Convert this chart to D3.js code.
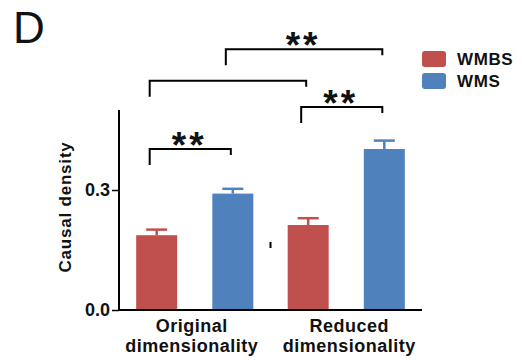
<!DOCTYPE html>
<html>
<head>
<meta charset="utf-8">
<script src="https://cdn.jsdelivr.net/npm/d3@7"></script>
<style>
  body { margin: 0; background: #fff; }
  text { font-family: "Liberation Sans", Arial, sans-serif; }
</style>
</head>
<body>
<svg id="chart" width="522" height="360"></svg>
<script>
// chart data
var groups = ["Original|dimensionality", "Reduced|dimensionality"];
var series = ["WMBS", "WMS"];
var means = [[0.187, 0.291], [0.2125, 0.4025]];
var errors = [[0.014, 0.012], [0.017, 0.021]];
var yTicks = [0.0, 0.3];

// significance brackets: [group, series] -> [group, series], level in y units
var brackets = [
    {from: [0, 0], to: [0, 1], level: 0.4025, label: "**"},
    {from: [1, 0], to: [1, 1], level: 0.5075, label: "**"},
    {from: [0, 0], to: [1, 0], level: 0.573, label: ""},
    {from: [0, 1], to: [1, 1], level: 0.652, label: "**"}
];

var colors = {"WMBS": "#c0504d", "WMS": "#4f81bd"};

var svg = d3.select("#chart");

var plotL = 119, plotR = 422, plotT = 110, plotB = 310;

var x0 = d3.scaleBand().domain(groups).range([plotL, plotR]).padding(0);
var x1 = d3.scaleBand().domain(series).range([0, x0.bandwidth()]).paddingInner(0.85).paddingOuter(0.42);
var y = d3.scaleLinear().domain([0, 0.5]).range([plotB, plotT]);

function barCenter(g, s) {
    return x0(groups[g]) + x1(series[s]) + x1.bandwidth() / 2;
}

// bars + error bars
groups.forEach(function(g, gi) {
    series.forEach(function(s, si) {
        var cx = barCenter(gi, si);
        var m = means[gi][si], e = errors[gi][si];
        svg.append("rect")
            .attr("x", cx - 20.5)
            .attr("width", 41)
            .attr("y", y(m))
            .attr("height", y(0) - y(m))
            .attr("fill", colors[s]);
        svg.append("line")
            .attr("x1", cx).attr("x2", cx)
            .attr("y1", y(m)).attr("y2", y(m + e))
            .attr("stroke", colors[s]).attr("stroke-width", 2.5);
        svg.append("line")
            .attr("x1", cx - 10.5).attr("x2", cx + 10.5)
            .attr("y1", y(m + e)).attr("y2", y(m + e))
            .attr("stroke", colors[s]).attr("stroke-width", 2.5);
    });
});

// axes
var yAxis = svg.append("g")
    .attr("transform", "translate(" + plotL + ",0)")
    .call(d3.axisLeft(y).tickValues(yTicks).tickFormat(d3.format(".1f")).tickSize(7).tickPadding(2));
yAxis.select(".domain").attr("stroke", "#000").attr("stroke-width", 2).attr("d", "M0," + plotT + "V" + plotB);
yAxis.selectAll(".tick line").attr("stroke", "#000").attr("stroke-width", 1.5);
yAxis.selectAll(".tick text")
    .attr("font-size", 18).attr("font-weight", "bold").attr("fill", "#111")
    .attr("font-family", "Liberation Sans, Arial, sans-serif");

svg.append("line")
    .attr("x1", plotL - 1).attr("x2", plotR)
    .attr("y1", plotB).attr("y2", plotB)
    .attr("stroke", "#000").attr("stroke-width", 2);

// stray mark between groups
svg.append("line")
    .attr("x1", x0(groups[1])).attr("x2", x0(groups[1]))
    .attr("y1", y(0.17)).attr("y2", y(0.155))
    .attr("stroke", "#000").attr("stroke-width", 2);

// group labels
groups.forEach(function(g, gi) {
    var parts = g.split("|");
    var cx = x0(g) + x0.bandwidth() / 2 + (gi == 0 ? -3 : 3);
    var t = svg.append("text")
        .attr("text-anchor", "middle")
        .attr("font-size", 18).attr("font-weight", "bold")
        .attr("letter-spacing", 0.5)
        .attr("fill", "#111");
    t.append("tspan").attr("x", cx).attr("y", 332).text(parts[0]);
    t.append("tspan").attr("x", cx).attr("y", 352).text(parts[1]);
});

// y title
svg.append("text")
    .attr("transform", "translate(71,207) rotate(-90)")
    .attr("text-anchor", "middle")
    .attr("font-size", 17).attr("font-weight", "bold")
    .attr("fill", "#111")
    .attr("letter-spacing", 0.8)
    .text("Causal density");

// brackets
brackets.forEach(function(b) {
    var xa = barCenter(b.from[0], b.from[1]) - 7;
    var xb = barCenter(b.to[0], b.to[1]) - 2;
    var yl = y(b.level);
    svg.append("path")
        .attr("d", "M" + xa + "," + (yl + 16) + "V" + yl + "H" + xb + "V" + (yl + 6))
        .attr("fill", "none").attr("stroke", "#000").attr("stroke-width", 2);
    if (b.label) {
        svg.append("text")
            .attr("x", (xa + xb) / 2 - 1)
            .attr("y", yl + 9)
            .attr("text-anchor", "middle")
            .attr("font-size", 37).attr("font-weight", "bold")
            .attr("letter-spacing", 3)
            .attr("fill", "#111")
            .text(b.label);
    }
});

// panel letter
svg.append("text")
    .attr("x", 13).attr("y", 43)
    .attr("font-size", 44)
    .attr("fill", "#111")
    .text("D");

// legend
var legend = svg.append("g").attr("transform", "translate(422,51)");
series.forEach(function(s, i) {
    legend.append("rect")
        .attr("x", 0).attr("y", i * 22)
        .attr("width", 24).attr("height", 16)
        .attr("rx", 3)
        .attr("fill", colors[s]);
    legend.append("text")
        .attr("x", 35).attr("y", i * 22 + 14)
        .attr("font-size", 17).attr("font-weight", "bold")
        .attr("letter-spacing", 0.6)
        .attr("fill", "#111")
        .text(s);
});
</script>
</body>
</html>
